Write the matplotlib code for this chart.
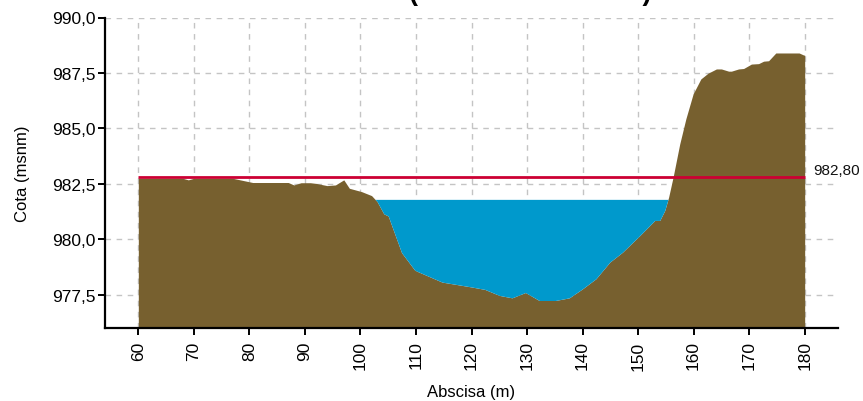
import matplotlib
matplotlib.use("Agg")
import matplotlib.pyplot as plt
import numpy as np

plt.rcParams['font.family'] = ['Liberation Sans', 'DejaVu Sans']

# Terrain profile (abscisa m, cota msnm)
abscisa = [60, 62, 68, 69, 70, 77, 80.6, 87, 88, 89.3, 91, 92, 94, 95.5, 97, 98,
           100.2, 102, 103, 104.2, 105, 107.4, 109.8, 114.7, 120, 122.4, 125, 127.3,
           129.7, 132.2, 135.1, 137.6, 140, 142.4, 144.9, 147.2, 150.3, 153, 153.9,
           154.8, 155.5, 156.3, 157.5, 158.6, 159.9, 161.3, 162.6, 164.1, 165, 166.3,
           166.8, 168.1, 169, 170.4, 171.7, 172.6, 173.5, 174.8, 179, 179.8, 180]
cota = [982.75, 982.75, 982.75, 982.68, 982.75, 982.75, 982.56, 982.56, 982.45, 982.55,
        982.55, 982.52, 982.42, 982.45, 982.68, 982.3, 982.15, 981.97, 981.7, 981.15,
        981.05, 979.4, 978.6, 978.07, 977.85, 977.74, 977.47, 977.36, 977.6, 977.24,
        977.24, 977.36, 977.77, 978.22, 978.97, 979.42, 980.17, 980.85, 980.85, 981.3,
        981.9, 982.8, 984.3, 985.43, 986.55, 987.23, 987.49, 987.68, 987.68, 987.58,
        987.58, 987.68, 987.7, 987.9, 987.92, 988.03, 988.05, 988.4, 988.4, 988.31, 988.3]

nivel_agua = 981.8
nivel_referencia = 982.80
etiqueta_referencia = "982,80"

xticks = [60, 70, 80, 90, 100, 110, 120, 130, 140, 150, 160, 170, 180]
yticks = [977.5, 980.0, 982.5, 985.0, 987.5, 990.0]
ytick_labels = ["977,5", "980,0", "982,5", "985,0", "987,5", "990,0"]

titulo = "(ABSCISA K0+000)"

W, H = 863, 402
fig = plt.figure(figsize=(W / 100, H / 100), dpi=100)
ax = fig.add_axes([105 / W, (H - 329) / H, (838 - 105) / W, (329 - 18.5) / H])

x = np.array(abscisa)
y = np.array(cota)
ymin = 976.0

terrain_color = '#77602F'
water_color = '#0099CC'

ax.fill_between(x, ymin, y, color=terrain_color, lw=0, zorder=2)
ax.fill_between(x, y, nivel_agua, where=y < nivel_agua, interpolate=True,
                color=water_color, lw=0, zorder=2)
ax.plot([x[0], x[-1]], [nivel_referencia, nivel_referencia], color='#CC0033', lw=2.0,
        zorder=3, solid_capstyle='butt')
ax.text(181.6, nivel_referencia, etiqueta_referencia, fontsize=11, va='bottom',
        ha='left', color='#111111')

ax.set_xlim(54, 186)
ax.set_ylim(ymin, 990)
ax.set_xticks(xticks)
ax.set_xticklabels([str(v) for v in xticks], rotation=90, fontsize=12.5)
ax.set_yticks(yticks)
ax.set_yticklabels(ytick_labels, fontsize=12.5)

ax.grid(True, color='#c4c4c4', linestyle=(0, (4, 4)), lw=1.0)
ax.set_axisbelow(True)

for s in ['top', 'right']:
    ax.spines[s].set_visible(False)
for s in ['left', 'bottom']:
    ax.spines[s].set_linewidth(1.6)
    ax.spines[s].set_color('black')
ax.tick_params(axis='both', direction='out', length=5, width=1.4, color='black')
ax.tick_params(axis='y', pad=2)
ax.tick_params(axis='x', pad=4)

ax.set_xlabel("Abscisa (m)", fontsize=12, labelpad=10)
ax.set_ylabel("Cota (msnm)", fontsize=12, labelpad=16)

# Title placed mostly above the canvas (only the bottom of the brackets shows)
fig.text(409 / W, 1.0 + 0.5 / H, titulo, fontsize=19.5, fontweight='bold', ha='left',
         va='baseline')

fig.savefig("out.png", dpi=100)
